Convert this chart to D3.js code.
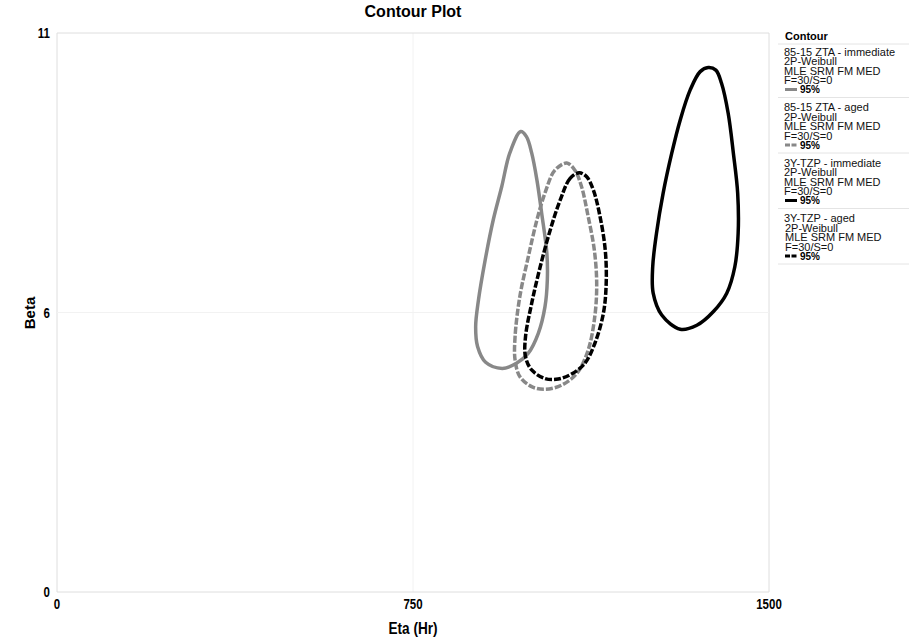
<!DOCTYPE html>
<html>
<head>
<meta charset="utf-8">
<script src="https://cdn.jsdelivr.net/npm/d3@7"></script>
<style>
  body { margin: 0; background: #fff; }
  svg { font-family: "Liberation Sans", Arial, sans-serif; }
</style>
</head>
<body>
<svg id="chart" width="909" height="639"></svg>
<script>
// axis ticks (Weibull++ puts the middle tick at the midpoint, label rounded)
var xTicks = [0, 750, 1500];
var yTicks = [0, 5.5, 11];
var yTickLabels = ["0", "6", "11"];

// contour names / legend text
var seriesNames = ["85-15 ZTA - immediate", "85-15 ZTA - aged", "3Y-TZP  - immediate", "3Y-TZP  - aged"];
var seriesColors = ["#888888", "#888888", "#000000", "#000000"];
var seriesDashed = [false, true, false, true];

// contour points [eta, beta]
var ztaImmediate = [
  [977, 9.06], [954, 8.64], [937, 7.98], [919, 7.32], [902, 6.53], [888, 5.75], [882, 5.22],
  [886, 4.83], [903, 4.52], [938, 4.40], [968, 4.50], [993, 4.70], [1014, 5.09], [1028, 5.61],
  [1033, 6.14], [1032, 6.67], [1021, 7.46], [1011, 8.11], [1000, 8.64], [989, 8.96]
];
var ztaAged = [
  [1074, 8.44], [1049, 8.30], [1028, 7.85], [1011, 7.32], [993, 6.60], [975, 5.81], [965, 5.02],
  [965, 4.57], [975, 4.24], [1000, 4.04], [1028, 3.99], [1063, 4.07], [1095, 4.30], [1119, 4.76],
  [1133, 5.42], [1137, 6.07], [1132, 6.73], [1119, 7.39], [1105, 7.98], [1091, 8.30]
];
var tzpImmediate = [
  [1372, 10.32], [1355, 10.24], [1334, 9.88], [1313, 9.29], [1295, 8.63], [1277, 7.85], [1263, 7.06],
  [1255, 6.40], [1256, 5.88], [1274, 5.45], [1313, 5.17], [1348, 5.25], [1383, 5.52], [1411, 5.88],
  [1428, 6.40], [1435, 7.06], [1434, 7.85], [1425, 8.63], [1414, 9.42], [1400, 10.01], [1388, 10.27]
];
var tzpAged = [
  [1100, 8.25], [1081, 8.14], [1060, 7.71], [1039, 7.12], [1018, 6.40], [1000, 5.68], [987, 5.02],
  [987, 4.63], [1000, 4.37], [1028, 4.20], [1056, 4.19], [1084, 4.29], [1112, 4.50], [1133, 4.89],
  [1151, 5.48], [1157, 6.07], [1155, 6.73], [1144, 7.39], [1130, 7.91], [1116, 8.17]
];
var contours = [ztaImmediate, ztaAged, tzpImmediate, tzpAged];

var svg = d3.select("#chart");
var pLeft = 57, pRight = 769, pTop = 33, pBottom = 592;

var x = d3.scaleLinear().domain([0, 1500]).range([pLeft, pRight]);
var y = d3.scaleLinear().domain([0, 11]).range([pBottom, pTop]);

// grid + frame
svg.selectAll(".gx").data(xTicks).enter().append("line")
  .attr("x1", d => x(d)).attr("x2", d => x(d)).attr("y1", pTop).attr("y2", pBottom)
  .attr("stroke", d => (d == 750 ? "#f2f2f2" : "#dedede")).attr("stroke-width", 1);
svg.selectAll(".gy").data(yTicks).enter().append("line")
  .attr("x1", pLeft).attr("x2", pRight).attr("y1", d => y(d)).attr("y2", d => y(d))
  .attr("stroke", d => (d == 5.5 ? "#f2f2f2" : "#dedede")).attr("stroke-width", 1);

// tick labels (narrow bold look)
svg.selectAll(".xt").data(xTicks).enter().append("text")
  .attr("transform", d => "translate(" + x(d) + ",609) scale(0.82,1)")
  .attr("text-anchor", "middle").attr("font-size", 14).attr("font-weight", "bold")
  .text(d => d);
svg.selectAll(".yt").data(yTicks).enter().append("text")
  .attr("transform", d => "translate(50," + (y(d) + 5) + ") scale(0.82,1)")
  .attr("text-anchor", "end").attr("font-size", 14).attr("font-weight", "bold")
  .text((d, i) => yTickLabels[i]);

// titles
svg.append("text").attr("x", 413).attr("y", 17).attr("text-anchor", "middle")
  .attr("font-size", 16).attr("font-weight", "bold").text("Contour Plot");
svg.append("text").attr("transform", "translate(413,634) scale(0.85,1)").attr("text-anchor", "middle")
  .attr("font-size", 16).attr("font-weight", "bold").text("Eta (Hr)");
svg.append("text").attr("transform", "translate(35,313) rotate(-90)").attr("text-anchor", "middle")
  .attr("font-size", 15).attr("font-weight", "bold").text("Beta");

// contours
var line = d3.line()
  .x(d => x(d[0])).y(d => y(d[1]))
  .curve(d3.curveCatmullRomClosed.alpha(0.5));

svg.selectAll(".contour").data(contours).enter().append("path")
  .attr("class", "contour")
  .attr("d", line)
  .attr("fill", "none")
  .attr("stroke", (d, i) => seriesColors[i])
  .attr("stroke-width", 3.5)
  .attr("stroke-linejoin", "round")
  .attr("stroke-dasharray", (d, i) => (seriesDashed[i] ? "7,2" : null));

// legend
var lg = svg.append("g").attr("transform", "translate(784,0)");
lg.append("text").attr("x", 1).attr("y", 40).attr("font-size", 11).attr("font-weight", "bold").text("Contour");
lg.append("line").attr("x1", -6).attr("x2", 125).attr("y1", 44).attr("y2", 44).attr("stroke", "#e4e4e4");

var entry = lg.selectAll(".entry").data(seriesNames).enter().append("g")
  .attr("transform", (d, i) => "translate(0," + (55.5 * i) + ")");
entry.each(function (name, i) {
  var g = d3.select(this);
  var rows = [name, "2P-Weibull", "MLE SRM FM MED", "F=30/S=0"];
  g.selectAll("text.row").data(rows).enter().append("text")
    .attr("x", (d, k) => (i == 3 && k > 0 ? 1 : 0))
    .attr("y", (d, k) => 55.5 + k * 9.5)
    .attr("font-size", 11).attr("fill", "#111")
    .text(d => d);
  g.append("line").attr("x1", 1).attr("x2", 13).attr("y1", 89.5).attr("y2", 89.5)
    .attr("stroke", seriesColors[i]).attr("stroke-width", 3)
    .attr("stroke-dasharray", seriesDashed[i] ? "5,1.5" : null);
  g.append("text").attr("x", 16).attr("y", 93).attr("font-size", 10).attr("font-weight", "bold").text("95%");
  g.append("line").attr("x1", -6).attr("x2", 125).attr("y1", 97.5).attr("y2", 97.5).attr("stroke", "#e4e4e4");
});
</script>
</body>
</html>
